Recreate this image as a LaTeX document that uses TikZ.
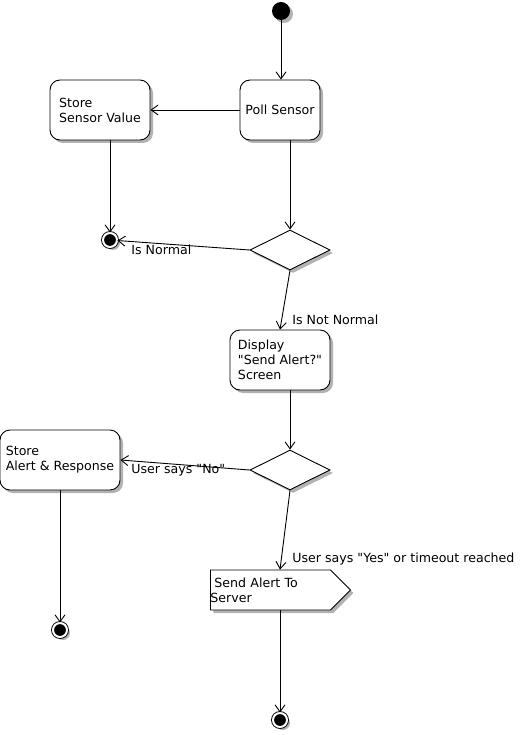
\documentclass[tikz,border=0pt]{standalone}
\usepackage{fontspec}
\setmainfont{DejaVu Sans}[Ligatures=TeXOff]
\usetikzlibrary{shapes.geometric, shapes.symbols, arrows.meta, positioning, shadows}
\newcommand{\umlfont}{\fontsize{12.6}{15}\selectfont}
\tikzset{
    umlshadow/.style={drop shadow={shadow xshift=3pt, shadow yshift=-3pt, fill=black!30, opacity=1}},
    action/.style={rectangle, rounded corners=10pt, draw, fill=white, minimum height=60pt, align=left, font=\umlfont, umlshadow},
    decision/.style={diamond, draw, fill=white, minimum width=80pt, minimum height=40pt, inner sep=0pt, umlshadow},
    startdot/.style={circle, fill=black, minimum size=18pt, inner sep=0pt, umlshadow},
    enddot/.style={circle, draw=black, fill=black, double=white, double distance=2pt, minimum size=14pt, inner sep=0pt, umlshadow},
    sendbox/.style={signal, signal to=east, signal pointer angle=90, draw, fill=white, text width=120pt, minimum height=40pt, inner sep=0pt, align=left, font=\umlfont, umlshadow},
    guard/.style={font=\umlfont, inner sep=0pt, anchor=west},
    arrow/.style={-{Straight Barb[length=7pt, width=10pt]}}
}

\begin{document}
\begin{tikzpicture}[x=1pt, y=-1pt, line width=0.9pt]
    \useasboundingbox (0,0) rectangle (520,735);

    % start and polling
    \node[startdot] (start) at (281,11) {};
    \node[action, minimum width=80pt] (poll) at (280,110) {Poll Sensor};
    \node[action, minimum width=100pt] (storevalue) at (100,110) {Store\\Sensor Value};
    \node[enddot] (endnormal) at (110,240) {};

    % first check
    \node[decision] (checkvalue) at (290,250) {};
    \node[action, minimum width=100pt] (display) at (280,360) {Display\\"Send Alert?"\\Screen};

    % second check
    \node[decision] (checkuser) at (290,470) {};
    \node[action, minimum width=120pt] (storealert) at (60,460) {Store\\Alert \& Response};
    \node[enddot] (endno) at (60,630) {};

    % send signal
    \node[sendbox, anchor=west] (send) at (210,590) {\hspace*{4pt}Send Alert To\\Server};
    \node[enddot] (endsend) at (280,720) {};

    % guards
    \node[guard] (isnormal) at (131,250) {Is Normal};
    \node[guard] (notnormal) at (292,320) {Is Not Normal};
    \node[guard] (saysno) at (131,470) {User says "No"};
    \node[guard] (saysyes) at (292,559) {User says "Yes" or timeout reached};

    % Lines
    \draw[arrow] (start) -- (start |- poll.north);
    \draw[arrow] (poll) -- (storevalue);
    \draw[arrow] ([xshift=10pt]storevalue.south) -- (endnormal);
    \draw[arrow] ([xshift=10pt]poll.south) -- (checkvalue.north);
    \draw[arrow] (checkvalue.west) -- (endnormal);
    \draw[arrow] (checkvalue.south) -- (display.north);
    \draw[arrow] ([xshift=10pt]display.south) -- (checkuser.north);
    \draw[arrow] (checkuser.west) -- (storealert.east);
    \draw[arrow] (storealert) -- (endno);
    \draw[arrow] (checkuser.south) -- (send.north -| endsend);
    \draw[arrow] (send.south -| endsend) -- (endsend);
\end{tikzpicture}
\end{document}
